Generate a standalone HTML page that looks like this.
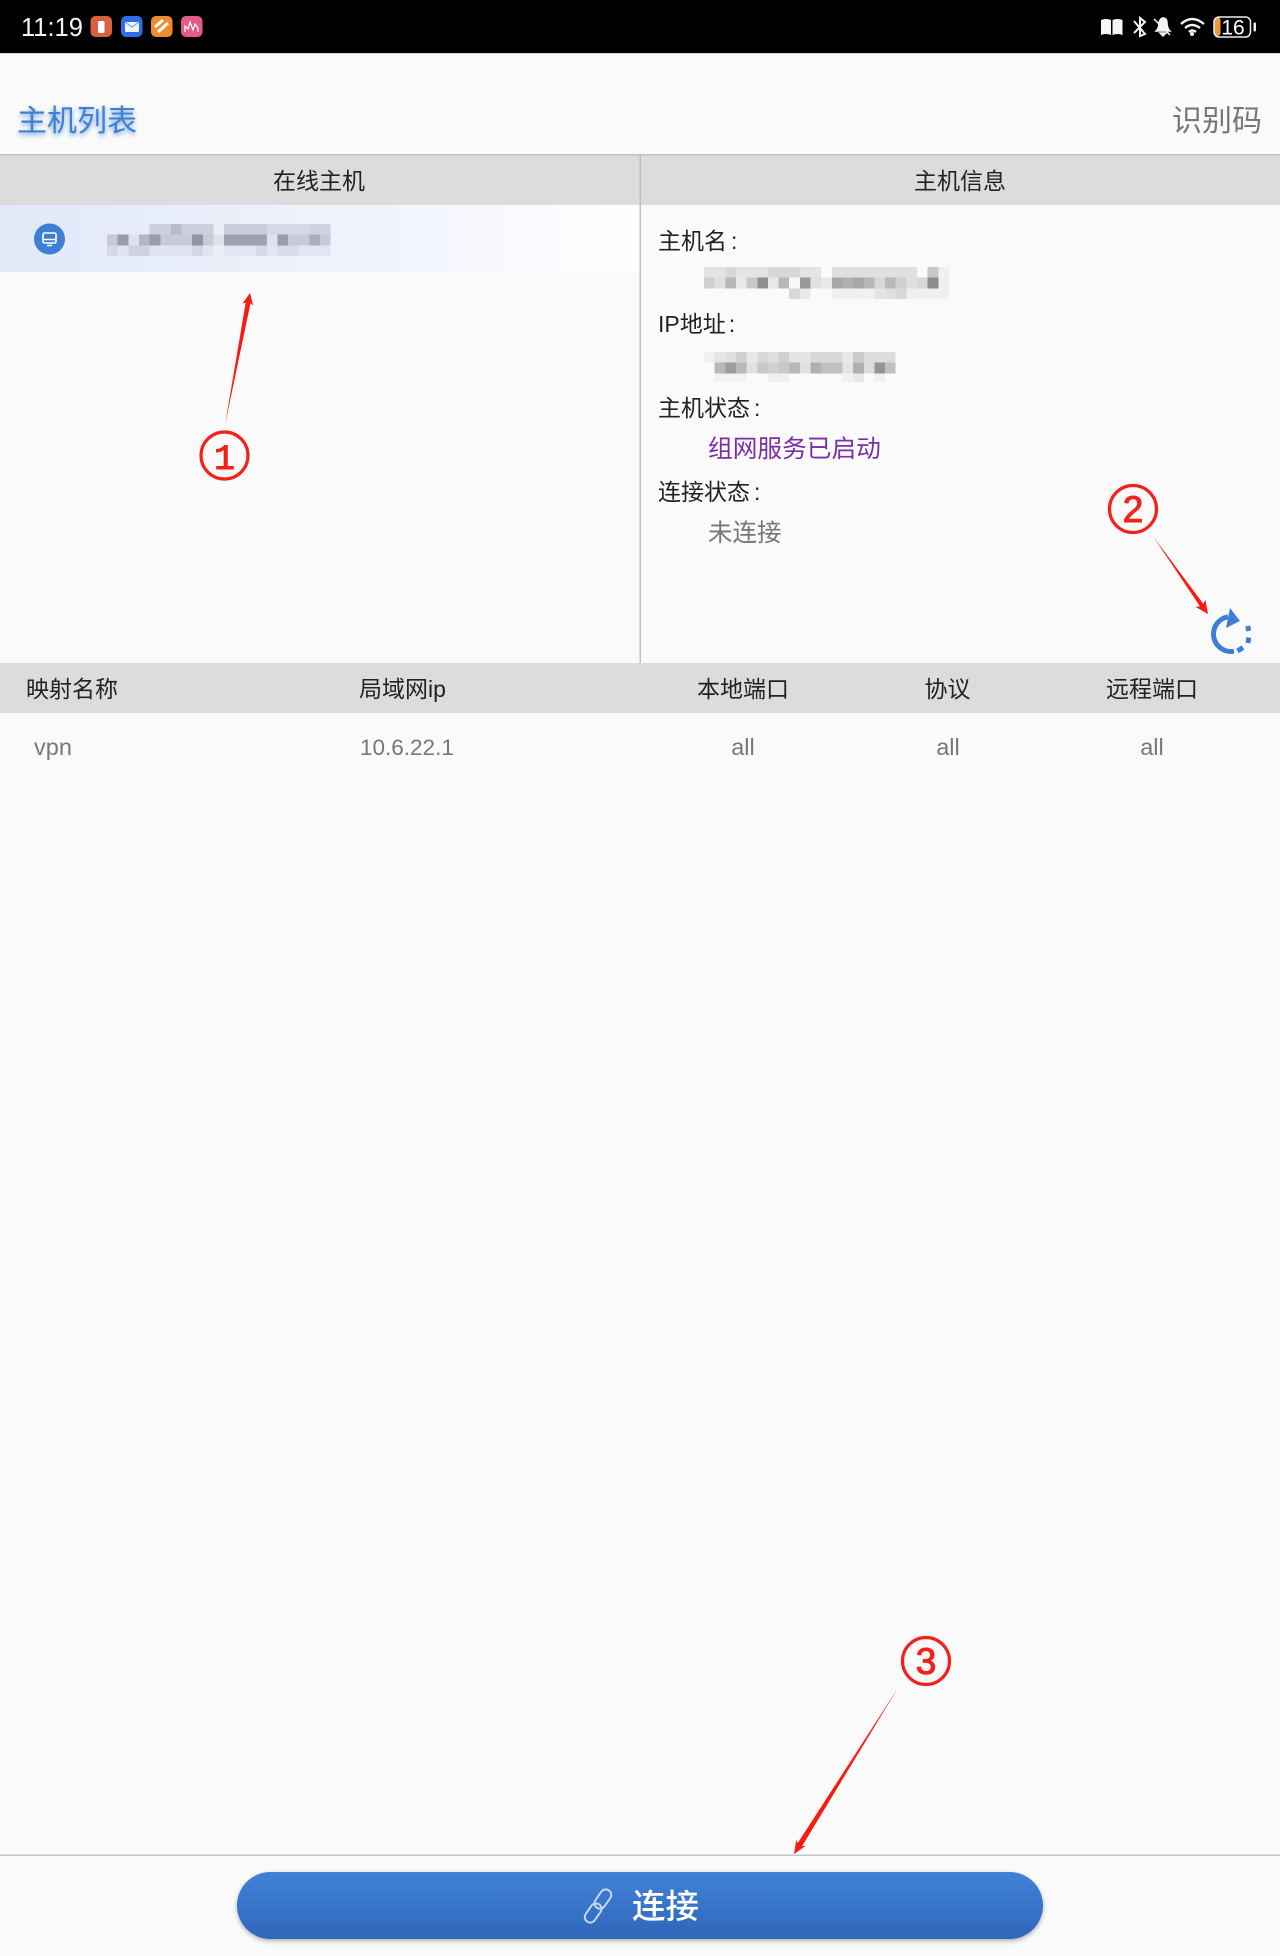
<!DOCTYPE html>
<html lang="zh"><head><meta charset="utf-8"><title>主机列表</title>
<style>
html,body{margin:0;padding:0;background:#fafafa;width:1280px;height:1956px;overflow:hidden}
svg{display:block;position:absolute;left:0;top:0}
text{font-family:"Liberation Sans","Noto Sans CJK SC",sans-serif;font-size:23px;fill:#222;filter:blur(.3px)}
.g{fill:#777}
.m{text-anchor:middle}
.n{font-size:37px;fill:#f5201a;stroke:#f5201a;stroke-width:1;text-anchor:middle;filter:none}
</style></head><body>
<svg width="1280" height="1956" viewBox="0 0 1280 1956" xmlns="http://www.w3.org/2000/svg">
<defs>
<linearGradient id="row" x1="0" x2="1" y1="0" y2="0"><stop offset="0" stop-color="#e1e8f8"/><stop offset=".6" stop-color="#f1f4fc"/><stop offset="1" stop-color="#ffffff"/></linearGradient>
<linearGradient id="btn" x1="0" x2="0" y1="0" y2="1"><stop offset="0" stop-color="#4082d8"/><stop offset="1" stop-color="#2f66b8"/></linearGradient>
<filter id="sh" x="-5%" y="-20%" width="110%" height="150%"><feDropShadow dx="0" dy="2" stdDeviation="2.500" flood-color="#000" flood-opacity=".3"/></filter>
</defs>
<rect width="1280" height="1956" fill="#fafafa"/>
<!-- status bar -->
<rect width="1280" height="53" fill="#000"/>
<rect y="53" width="1280" height="1" fill="#cfcfcf"/>
<text x="21" y="36" style="font-size:25.500px;fill:#f4f4f4">11:19</text>
<rect x="90.500" y="16" width="21.500" height="21" rx="5" fill="#d9613f"/><rect x="98" y="21" width="6.500" height="12" rx="1.500" fill="#fff"/>
<rect x="121" y="16" width="21.500" height="21" rx="5" fill="#2f6ce6"/><rect x="125" y="22" width="14" height="10" rx="1" fill="#eef3fd"/><path d="M125 22l7 5 7-5" fill="none" stroke="#7da3ee" stroke-width="1.200"/>
<rect x="151" y="16" width="21.500" height="21" rx="5" fill="#ef8b2f"/><path d="M155 27l8-7M158 32l10-9" stroke="#fff" stroke-width="3" fill="none"/>
<rect x="181" y="16" width="21.500" height="21" rx="5" fill="#e25b8b"/><path d="M185 32v-6l3 3 2-7 3 8 2-6 3 4v4" stroke="#fff" stroke-width="1.200" fill="none"/>
<path d="M1101 20q5-2 10 0v15q-5-2-10 0zM1112.500 20q5-2 10 0v15q-5-2-10 0z" fill="#f6f6f6"/>
<path d="M1134 21l11 13-5 2v-18l5 4-11 11" fill="none" stroke="#f4f4f4" stroke-width="2"/>
<path d="M1156 31q3-3 3-8q1-5 4-5q4 0 4 5q0 5 3 8zM1160 33h6l-3 3zM1154 19l16 16" fill="#f4f4f4" stroke="#f4f4f4" stroke-width="1.500"/>
<path d="M1181 24q11-10 23 0M1185 28q7-6 15 0M1189 32q3-3 7 0" fill="none" stroke="#f4f4f4" stroke-width="2.400"/><circle cx="1192" cy="34" r="2" fill="#f4f4f4"/>
<rect x="1214" y="17" width="6.500" height="19" rx="3" fill="#ef9a3a"/>
<rect x="1214" y="17" width="36.500" height="20" rx="5" fill="none" stroke="#eee" stroke-width="1.500"/>
<rect x="1253.500" y="22.500" width="2.500" height="9" rx="1" fill="#eee"/>
<text x="1233" y="34.500" class="m" style="font-size:21px;fill:#fff">16</text>
<!-- top bar -->
<text x="17" y="131" style="font-size:30px;fill:#3f80d4;filter:drop-shadow(0 2px 2.500px rgba(61,127,212,.75))">主机列表</text>
<text x="1172" y="131" class="g" style="font-size:30px">识别码</text>
<!-- panels -->
<rect y="154" width="1280" height="51" fill="#dcdcdc"/>
<rect y="154" width="1280" height="1.500" fill="#c4c4c4"/>
<rect x="0" y="205" width="640" height="67" fill="url(#row)"/>
<rect x="639.500" y="154" width="1.500" height="509" fill="#c0c0c0"/>
<text x="319" y="189" class="m">在线主机</text>
<text x="960" y="189" class="m">主机信息</text>
<!-- row icon -->
<circle cx="49.500" cy="239" r="15.500" fill="#3d7fd4"/>
<rect x="43" y="233" width="13" height="10" rx="1.500" fill="none" stroke="#fff" stroke-width="1.600"/><path d="M43 239.500h13M47 245.500h5" stroke="#fff" stroke-width="1.600"/>
<!-- mosaic 1 -->
<g transform="translate(107,224) scale(10.65,10.67)" shape-rendering="crispEdges">
<rect x="4" y="0" width="6" height="1" fill="#cdcfdc"/><rect x="6" y="0" width="1" height="1" fill="#b9bbc9"/><rect x="11" y="0" width="4" height="1" fill="#cbcdda"/><rect x="15" y="0" width="4" height="1" fill="#d5d8e5"/><rect x="19" y="0" width="2" height="1" fill="#d0d2df"/>
<rect x="0" y="1" width="21" height="1" fill="#c8cad8"/><rect x="1" y="1" width="1" height="1" fill="#9a9caa"/><rect x="2" y="1" width="1" height="1" fill="#dfe2ee"/><rect x="3" y="1" width="1" height="1" fill="#b4b6c4"/><rect x="4" y="1" width="1" height="1" fill="#9a9caa"/><rect x="8" y="1" width="1" height="1" fill="#94969f"/><rect x="10" y="1" width="1" height="1" fill="#dfe2ee"/><rect x="11" y="1" width="4" height="1" fill="#a0a2b0"/><rect x="15" y="1" width="1" height="1" fill="#dfe2ee"/><rect x="16" y="1" width="1" height="1" fill="#9a9caa"/><rect x="19" y="1" width="1" height="1" fill="#acaebc"/>
<rect x="0" y="2" width="10" height="1" fill="#e2e5f1"/><rect x="0" y="2" width="1" height="1" fill="#d5d8e5"/><rect x="2" y="2" width="2" height="1" fill="#cfd2df"/><rect x="8" y="2" width="1" height="1" fill="#d3d6e3"/><rect x="11" y="2" width="10" height="1" fill="#e3e6f2"/><rect x="14" y="2" width="1" height="1" fill="#d5d8e5"/><rect x="16" y="2" width="2" height="1" fill="#d8dbe8"/>
</g>
<!-- host info -->
<text x="658" y="249">主机名<tspan dx="4">:</tspan></text>
<g transform="translate(704,267) scale(10.65,10.67)" shape-rendering="crispEdges">
<rect x="0" y="0" width="11" height="1" fill="#e4e4e4"/><rect x="2" y="0" width="1" height="1" fill="#d8d8d8"/><rect x="6" y="0" width="3" height="1" fill="#d8d8d8"/><rect x="12" y="0" width="8" height="1" fill="#e0e0e0"/><rect x="21" y="0" width="1" height="1" fill="#c8c8c8"/><rect x="22" y="0" width="1" height="1" fill="#f0f0f0"/>
<rect x="0" y="1" width="1" height="1" fill="#d0d0d0"/><rect x="1" y="1" width="1" height="1" fill="#e0e0e0"/><rect x="2" y="1" width="1" height="1" fill="#b8b8b8"/><rect x="3" y="1" width="1" height="1" fill="#e8e8e8"/><rect x="4" y="1" width="1" height="1" fill="#c8c8c8"/><rect x="5" y="1" width="1" height="1" fill="#909090"/><rect x="6" y="1" width="1" height="1" fill="#e8e8e8"/><rect x="7" y="1" width="1" height="1" fill="#b8b8b8"/><rect x="8" y="1" width="1" height="1" fill="#f8f8f8"/><rect x="9" y="1" width="1" height="1" fill="#9a9a9a"/><rect x="10" y="1" width="1" height="1" fill="#e0e0e0"/><rect x="11" y="1" width="1" height="1" fill="#e8e8e8"/><rect x="12" y="1" width="1" height="1" fill="#a8a8a8"/><rect x="13" y="1" width="1" height="1" fill="#b0b0b0"/><rect x="14" y="1" width="1" height="1" fill="#a8a8a8"/><rect x="15" y="1" width="1" height="1" fill="#b8b8b8"/><rect x="16" y="1" width="1" height="1" fill="#d8d8d8"/><rect x="17" y="1" width="1" height="1" fill="#b8b8b8"/><rect x="18" y="1" width="1" height="1" fill="#d0d0d0"/><rect x="19" y="1" width="1" height="1" fill="#e0e0e0"/><rect x="20" y="1" width="1" height="1" fill="#d8d8d8"/><rect x="21" y="1" width="1" height="1" fill="#8c8c8c"/><rect x="22" y="1" width="1" height="1" fill="#f0f0f0"/>
<rect x="8" y="2" width="1" height="1" fill="#d8d8d8"/><rect x="9" y="2" width="1" height="1" fill="#e8e8e8"/><rect x="12" y="2" width="4" height="1" fill="#f0f0f0"/><rect x="16" y="2" width="1" height="1" fill="#e4e4e4"/><rect x="17" y="2" width="1" height="1" fill="#e0e0e0"/><rect x="18" y="2" width="1" height="1" fill="#d8d8d8"/><rect x="19" y="2" width="4" height="1" fill="#f0f0f0"/>
</g>
<text x="658" y="332">IP地址<tspan dx="3">:</tspan></text>
<g transform="translate(704,352) scale(10.65,10.67)" shape-rendering="crispEdges">
<rect x="0" y="0" width="1" height="1" fill="#f0f0f0"/><rect x="1" y="0" width="1" height="1" fill="#e4e4e4"/><rect x="2" y="0" width="1" height="1" fill="#e0e0e0"/><rect x="3" y="0" width="1" height="1" fill="#d0d0d0"/><rect x="4" y="0" width="1" height="1" fill="#e8e8e8"/><rect x="5" y="0" width="1" height="1" fill="#d8d8d8"/><rect x="6" y="0" width="1" height="1" fill="#e0e0e0"/><rect x="7" y="0" width="1" height="1" fill="#d0d0d0"/><rect x="8" y="0" width="2" height="1" fill="#e4e4e4"/><rect x="10" y="0" width="3" height="1" fill="#d8d8d8"/><rect x="13" y="0" width="1" height="1" fill="#e8e8e8"/><rect x="14" y="0" width="1" height="1" fill="#cccccc"/><rect x="15" y="0" width="3" height="1" fill="#dcdcdc"/>
<rect x="1" y="1" width="1" height="1" fill="#b8b8b8"/><rect x="2" y="1" width="1" height="1" fill="#9c9c9c"/><rect x="3" y="1" width="1" height="1" fill="#b8b8b8"/><rect x="4" y="1" width="1" height="1" fill="#e0e0e0"/><rect x="5" y="1" width="1" height="1" fill="#c8c8c8"/><rect x="6" y="1" width="1" height="1" fill="#d0d0d0"/><rect x="7" y="1" width="1" height="1" fill="#c8c8c8"/><rect x="8" y="1" width="1" height="1" fill="#b8b8b8"/><rect x="9" y="1" width="1" height="1" fill="#e0e0e0"/><rect x="10" y="1" width="1" height="1" fill="#b0b0b0"/><rect x="11" y="1" width="2" height="1" fill="#c0c0c0"/><rect x="13" y="1" width="1" height="1" fill="#e4e4e4"/><rect x="14" y="1" width="1" height="1" fill="#b0b0b0"/><rect x="15" y="1" width="1" height="1" fill="#dcdcdc"/><rect x="16" y="1" width="1" height="1" fill="#949494"/><rect x="17" y="1" width="1" height="1" fill="#c0c0c0"/>
<rect x="1" y="2" width="3" height="0.800" fill="#f2f2f2"/><rect x="6" y="2" width="2" height="0.800" fill="#f0f0f0"/><rect x="13" y="2" width="1" height="0.800" fill="#f0f0f0"/><rect x="14" y="2" width="1" height="0.800" fill="#e8e8e8"/><rect x="16" y="2" width="1" height="0.800" fill="#f0f0f0"/>
</g>
<text x="658" y="416">主机状态<tspan dx="4">:</tspan></text>
<text x="708" y="457" style="font-size:24.700px;fill:#7a2ea8">组网服务已启动</text>
<text x="658" y="500">连接状态<tspan dx="4">:</tspan></text>
<text x="708" y="541" class="g" style="font-size:24.500px">未连接</text>
<!-- refresh icon -->
<path d="M1228 616.800A17.500 17.500 0 0 0 1213.500 634A17.500 17.500 0 0 0 1234 651.200" fill="none" stroke="#3d7fd4" stroke-width="5"/>
<path d="M1230 608L1240 621L1226 628Z" fill="#3d7fd4"/>
<path d="M1237.500 651l5.500-3.500M1248 643l.7-5.500M1248.700 631l-1-5" fill="none" stroke="#3d7fd4" stroke-width="5"/>
<!-- table -->
<rect y="663" width="1280" height="50" fill="#dcdcdc"/>
<text x="26" y="697">映射名称</text>
<text x="359" y="697">局域网ip</text>
<text x="743" y="697" class="m">本地端口</text>
<text x="947.500" y="697" class="m">协议</text>
<text x="1152" y="697" class="m">远程端口</text>
<text x="34" y="755" class="g" style="font-size:23.500px">vpn</text>
<text x="360" y="755" class="g" style="font-size:22.500px">10.6.22.1</text>
<text x="743" y="755" class="g m" style="font-size:23.500px">all</text>
<text x="948" y="755" class="g m" style="font-size:23.500px">all</text>
<text x="1152" y="755" class="g m" style="font-size:23.500px">all</text>
<!-- annotations -->
<circle cx="224.500" cy="455.500" r="23.500" fill="none" stroke="#f5201a" stroke-width="3.200"/>
<text x="224.500" y="469" class="n" style="font-family:'Liberation Mono',monospace;font-size:35px">1</text>
<polygon points="225,425 250.500,303.100 253.200,305.800 250,293 242.400,303.800 245.700,302.500" fill="#fb1a12"/>
<circle cx="1133" cy="509" r="23.500" fill="none" stroke="#f5201a" stroke-width="3.200"/>
<text x="1133" y="522" class="n">2</text>
<polygon points="1153.500,537 1203.300,603.800 1205.400,599.900 1208,614 1195.600,606.900 1199.900,606.200" fill="#fb1a12"/>
<circle cx="926" cy="1661" r="23.500" fill="none" stroke="#f5201a" stroke-width="3.200"/>
<text x="926" y="1674" class="n">3</text>
<polygon points="898,1688 802,1846.200 805.600,1845.900 794,1854 796.200,1840.100 797.600,1843.200" fill="#fb1a12"/>
<!-- bottom -->
<rect y="1854.500" width="1280" height="1.500" fill="#c4c4c4"/>
<rect x="237" y="1872" width="806" height="67" rx="33.500" fill="url(#btn)" filter="url(#sh)"/>
<g fill="none" stroke="#c3d8f2" stroke-width="2" transform="rotate(35 598 1906)">
<rect x="592.500" y="1887" width="11" height="21" rx="5.500"/><rect x="592.500" y="1904" width="11" height="21" rx="5.500"/>
</g>
<text x="632" y="1918" style="font-size:33.500px;fill:#fff;font-weight:500">连接</text>
</svg>
</body></html>
